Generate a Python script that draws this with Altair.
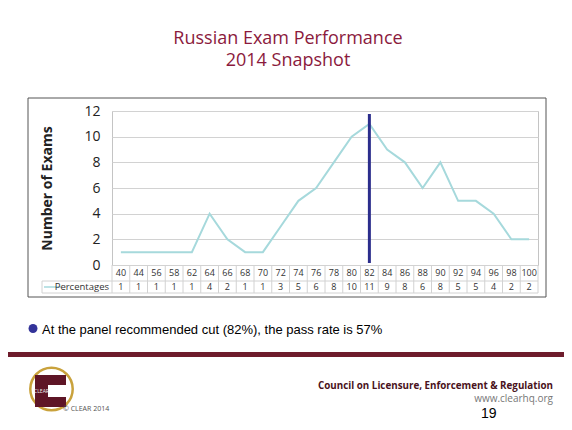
import altair as alt
import pandas as pd

# ---- data ----
percentages = ["40", "44", "56", "58", "62", "64", "66", "68", "70", "72", "74", "76",
               "78", "80", "82", "84", "86", "88", "90", "92", "94", "96", "98", "100"]
exam_counts = [1, 1, 1, 1, 1, 4, 2, 1, 1, 3, 5, 6, 8, 10, 11, 9, 8, 6, 8, 5, 5, 4, 2, 2]
cut_score = ["82"]
y_ticks = [0, 2, 4, 6, 8, 10, 12]

title_lines = ["Russian Exam Performance", "2014 Snapshot"]
bullet_text = "At the panel recommended cut (82%), the pass rate is 57%"
series_name = "Percentages"
org_name = "Council on Licensure, Enforcement & Regulation"
org_url = "www.clearhq.org"
copyright_text = "\u00a9 CLEAR 2014"
logo_text = "CLEAR"
page_number = "19"

df = pd.DataFrame({"pct": percentages, "count": exam_counts})
cut_df = pd.DataFrame({"pct": cut_score})

W, H = 426, 154
MAROON = "#8b1a3d"
LINE = "#a6d9dc"
NAVY = "#2b2d8c"
GRIDC = "#d2d2d2"

xenc = alt.X("pct:N", sort=percentages,
             scale=alt.Scale(type="band", paddingInner=0, paddingOuter=0), axis=None)


def one(v):
    return pd.DataFrame({"t": [v]})


def label(text, x, y, size, color="#000000", weight="normal", align="left",
          font="Open Sans", baseline="alphabetic"):
    return alt.Chart(one(text)).mark_text(
        align=align, baseline=baseline, font=font, fontSize=size,
        fontWeight=weight, color=color
    ).encode(x=alt.value(x), y=alt.value(y), text="t:N")


def box(x, x2, y, y2, fill=None, stroke=None, sw=1):
    kw = {}
    if fill is not None:
        kw["fill"] = fill
    else:
        kw["fillOpacity"] = 0
    if stroke is not None:
        kw["stroke"] = stroke
        kw["strokeWidth"] = sw
    return alt.Chart(one("")).mark_rect(**kw).encode(
        x=alt.value(x), x2=alt.value(x2), y=alt.value(y), y2=alt.value(y2))


def hline(x, x2, y, color, sw=1):
    return alt.Chart(one("")).mark_rule(color=color, strokeWidth=sw).encode(
        x=alt.value(x), x2=alt.value(x2), y=alt.value(y))


def vline(x, y, y2, color, sw=1):
    return alt.Chart(one("")).mark_rule(color=color, strokeWidth=sw).encode(
        x=alt.value(x), y=alt.value(y), y2=alt.value(y2))


# outer chart frame
frame = box(-84, 434, -13, 186, stroke="#555555", sw=1)

# main line
line = alt.Chart(df).mark_line(color=LINE, strokeWidth=2).encode(
    x=xenc,
    y=alt.Y("count:Q", scale=alt.Scale(domain=[0, 12], nice=False),
            axis=alt.Axis(values=y_ticks, grid=True, gridColor=GRIDC, domain=False,
                          ticks=False, labelPadding=12, labelFontSize=14,
                          labelFont="Open Sans", labelColor="#222222",
                          title="Number of Exams", titleFont="Open Sans",
                          titleFontSize=14, titleFontWeight="bold", titleColor="#222222",
                          titleX=-65, titleY=H / 2, titleAngle=270,
                          titleAlign="center", titleBaseline="middle")),
)

cut_rule = alt.Chart(cut_df).mark_rule(color=NAVY, strokeWidth=3).encode(
    x=alt.X("pct:N", sort=percentages), y=alt.value(3), y2=alt.value(H - 2))

# data table under the chart
cell_lines = alt.Chart(df).mark_rule(color=GRIDC, strokeWidth=1).encode(
    x=alt.X("pct:N", sort=percentages, bandPosition=0), y=alt.value(H), y2=alt.value(182))
row1 = alt.Chart(df).mark_text(fontSize=9, font="Open Sans", color="#333333",
                               baseline="middle").encode(
    x=alt.X("pct:N", sort=percentages), y=alt.value(162), text="pct:N")
row2 = alt.Chart(df).mark_text(fontSize=9, font="Open Sans", color="#333333",
                               baseline="middle").encode(
    x=alt.X("pct:N", sort=percentages), y=alt.value(176), text="count:Q")
table_lines = [
    vline(W, H, 182, GRIDC),
    hline(-70, W, 170, GRIDC),
    hline(-70, W, 182, GRIDC),
    vline(-70, 170, 182, GRIDC),
]
legend_sample = hline(-68, -51, 176, LINE, 1.5)
legend_text = label(series_name, -3, 176, 9.5, "#333333", align="right", baseline="middle")

# slide title
title1 = label(title_lines[0], 176, -67, 18, MAROON, align="center")
title2 = label(title_lines[1], 176, -45, 18, MAROON, align="center")

# bullet
bullet = alt.Chart(one("")).mark_point(filled=True, color="#333399", opacity=1,
                                       size=80, shape="circle").encode(
    x=alt.value(-79), y=alt.value(217.5))
bullet_t = label(bullet_text, -70, 223, 13, "#000000", font="Liberation Sans")

# footer
footer_bar = box(-104, 452, 241, 246, fill="#6e1c2c")
ring = alt.Chart(one("")).mark_point(filled=False, color="#c9a23c", strokeWidth=2.5,
                                     size=1800, shape="circle", opacity=1).encode(
    x=alt.value(-60.5), y=alt.value(278))
c_top = box(-77, -46, 264, 274, fill="#5e1526")
c_bot = box(-77, -46, 286, 296, fill="#5e1526")
c_spine = box(-77, -64, 264, 296, fill="#5e1526")
c_text = label(logo_text, -70.5, 280, 5, "#eeeeee", align="center", baseline="middle")
copy_t = label(copyright_text, -49, 300, 7, "#555555")
org_t = alt.Chart(one(org_name)).mark_text(align="right", font="Open Sans", fontSize=9.8,
                                           fontWeight="bold", color="#4a1220").encode(
    x=alt.value(441), y=alt.value(275), text="t:N")
url_t = label(org_url, 441, 291, 10, "#777777", align="right")
page_t = label(page_number, 369, 307, 14, "#000000", align="left", font="Liberation Sans")

chart = alt.layer(
    frame, line, cut_rule, cell_lines, row1, row2, *table_lines, legend_sample, legend_text,
    title1, title2, bullet, bullet_t, footer_bar, ring, c_top, c_bot, c_spine, c_text,
    copy_t, org_t, url_t, page_t,
).properties(
    width=W, height=H,
    autosize=alt.AutoSizeParams(type="none"),
    padding={"left": 104, "top": 103, "right": 26, "bottom": 157},
    background="white",
).configure_view(stroke="#c4c4c4", strokeWidth=1)

chart.save("out.html", embed_options={"renderer": "svg", "actions": False})
